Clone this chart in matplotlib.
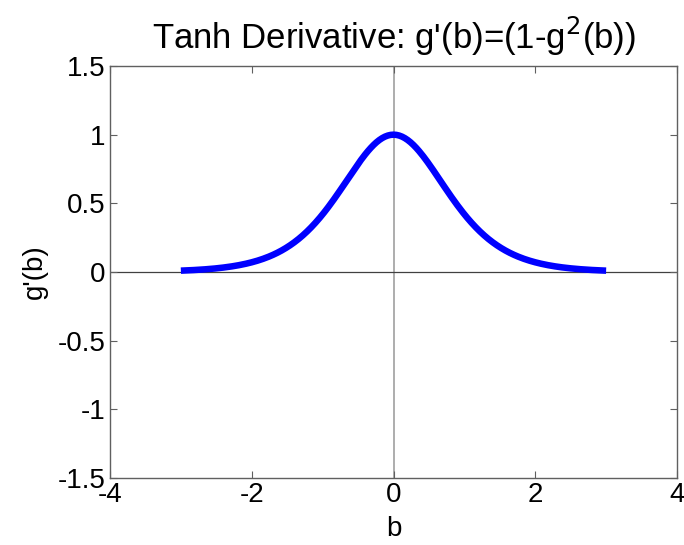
import numpy as np
import matplotlib
matplotlib.use("Agg")
import matplotlib.pyplot as plt

plt.rcParams['font.family'] = ['Liberation Sans', 'DejaVu Sans']

# Sample points of b and the tanh derivative g'(b) = 1 - tanh(b)^2
b_start, b_stop, n_points = -3.0, 3.0, 301
b = np.linspace(b_start, b_stop, n_points)
g_prime = 1.0 - np.tanh(b) ** 2

x_ticks = [-4, -2, 0, 2, 4]
y_ticks = [-1.5, -1, -0.5, 0, 0.5, 1, 1.5]
x_tick_labels = ['-4', '-2', '0', '2', '4']
y_tick_labels = ['-1.5', '-1', '-0.5', '0', '0.5', '1', '1.5']

fig = plt.figure(figsize=(6.84, 5.45), dpi=100)
ax = fig.add_axes([110 / 684, 1 - 478 / 545, (677 - 110) / 684, (478 - 66) / 545])

# reference axes through the origin
ax.axvline(0, color='#a0a0a0', lw=1.2, zorder=1)
ax.axhline(0, color='#404040', lw=0.9, zorder=1)

ax.plot(b, g_prime, color='#0000ff', lw=4.7, solid_capstyle='butt', zorder=2)

ax.set_xlim(-4, 4)
ax.set_ylim(-1.5, 1.5)
ax.set_xticks(x_ticks)
ax.set_xticklabels(x_tick_labels)
ax.set_yticks(y_ticks)
ax.set_yticklabels(y_tick_labels)

for s in ax.spines.values():
    s.set_color('#606060')
    s.set_linewidth(1.0)
ax.tick_params(direction='in', top=True, right=True, length=5, width=0.8,
               color='#606060', labelsize=20, pad=3)

ax.set_xlabel('b', fontsize=20, labelpad=6)
ax.set_ylabel("g'(b)", fontsize=20, labelpad=7)
ax.set_title("Tanh Derivative: g'(b)=(1-g$^2$(b))", fontsize=25, pad=12)

fig.savefig('out.png', dpi=100)
